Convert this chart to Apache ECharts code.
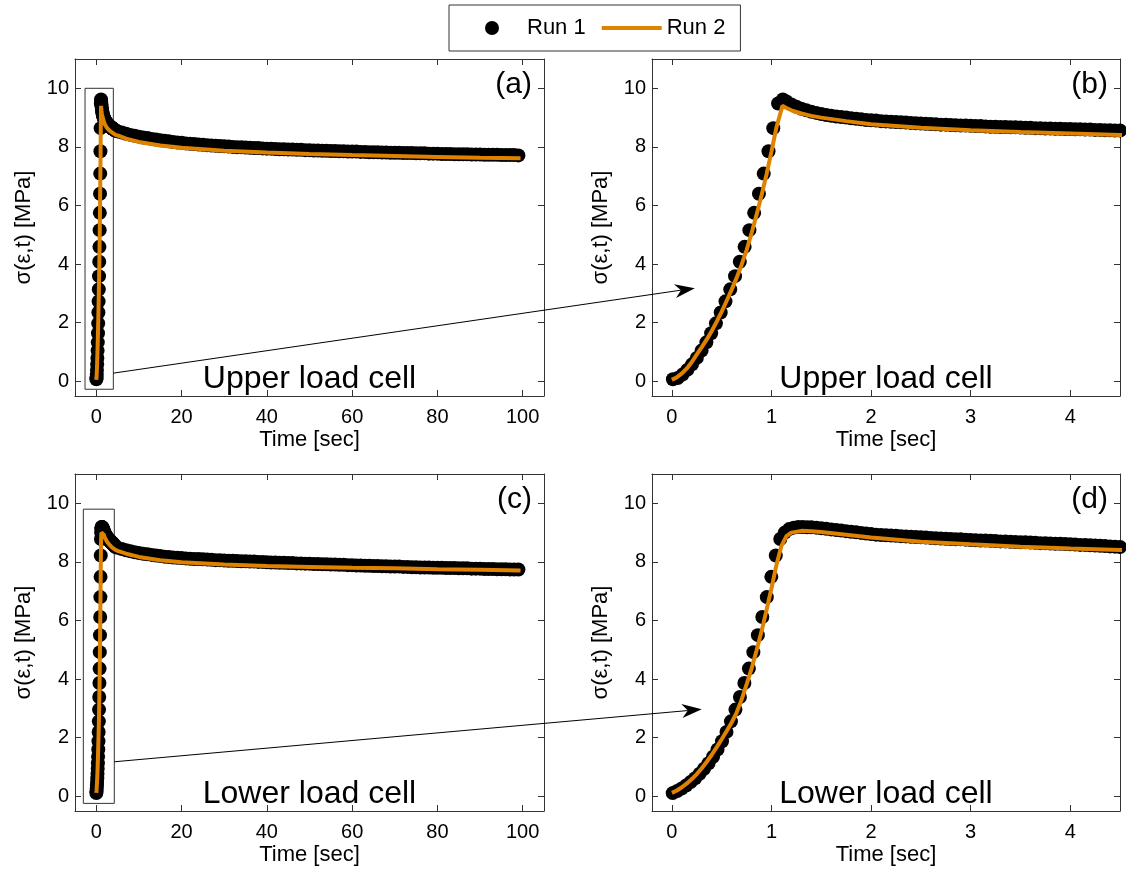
<!DOCTYPE html>
<html>
<head>
<meta charset="utf-8">
<title>Stress relaxation – upper and lower load cells</title>
<script src="https://cdn.jsdelivr.net/npm/echarts@6/dist/echarts.min.js"></script>
<style>
  html, body { margin: 0; padding: 0; background: #ffffff; }
  #chart { width: 1126px; height: 871px; }
</style>
</head>
<body>
<div id="chart"></div>
<script>
// ---------------------------------------------------------------------------
// Measured data: [time (s), stress (MPa)]
// ---------------------------------------------------------------------------

// Run 1, upper load cell: loading ramp
const upperRun1Rise = [
  [0.010, 0.07], [0.058, 0.11], [0.106, 0.23], [0.154, 0.39], [0.202, 0.58],
  [0.250, 0.80], [0.298, 1.05], [0.346, 1.33], [0.394, 1.64], [0.442, 1.98],
  [0.490, 2.35], [0.538, 2.73], [0.586, 3.14], [0.634, 3.59], [0.682, 4.08],
  [0.730, 4.59], [0.778, 5.16], [0.826, 5.75], [0.874, 6.40], [0.922, 7.09],
  [0.970, 7.85], [1.018, 8.64], [1.066, 9.48], [1.114, 9.62]
];
// Run 1, upper load cell: early relaxation
const upperRun1Relax = [
  [1.15, 9.55], [1.20, 9.45], [1.25, 9.37], [1.30, 9.30], [1.35, 9.25], [1.40, 9.20],
  [1.45, 9.16], [1.50, 9.12], [1.55, 9.09], [1.60, 9.06], [1.65, 9.04], [1.70, 9.02],
  [1.75, 9.00], [1.80, 8.98], [1.85, 8.96], [1.90, 8.94], [1.95, 8.92], [2.00, 8.91],
  [2.05, 8.90], [2.10, 8.88], [2.15, 8.87], [2.20, 8.86], [2.25, 8.85], [2.30, 8.84],
  [2.35, 8.83], [2.40, 8.82], [2.45, 8.81], [2.50, 8.80], [2.55, 8.79], [2.60, 8.78],
  [2.65, 8.77], [2.70, 8.76], [2.75, 8.76], [2.80, 8.75], [2.85, 8.74], [2.90, 8.73],
  [2.95, 8.73], [3.00, 8.72], [3.05, 8.71], [3.10, 8.71], [3.15, 8.70], [3.20, 8.69],
  [3.25, 8.69], [3.30, 8.68], [3.35, 8.68], [3.40, 8.67], [3.45, 8.67], [3.50, 8.66],
  [3.55, 8.65], [3.60, 8.65], [3.65, 8.64], [3.70, 8.64], [3.75, 8.63], [3.80, 8.63],
  [3.85, 8.62], [3.90, 8.62], [3.95, 8.61], [4.00, 8.61], [4.05, 8.60], [4.10, 8.60],
  [4.15, 8.59], [4.20, 8.59], [4.25, 8.58], [4.30, 8.58], [4.35, 8.57], [4.40, 8.57],
  [4.45, 8.56], [4.50, 8.56]
];
// Run 1, upper load cell: long-term relaxation
const upperRun1Tail = [
  [5, 8.53], [6, 8.49], [7, 8.45], [8, 8.41], [9, 8.38], [10, 8.35], [11, 8.32], [12, 8.30],
  [13, 8.27], [14, 8.25], [15, 8.23], [16, 8.21], [17, 8.19], [18, 8.17], [19, 8.15], [20, 8.14],
  [21, 8.12], [22, 8.11], [23, 8.10], [24, 8.08], [25, 8.07], [26, 8.06], [27, 8.05], [28, 8.04],
  [29, 8.03], [30, 8.02], [31, 8.01], [32, 8.00], [33, 7.99], [34, 7.99], [35, 7.98], [36, 7.97],
  [37, 7.96], [38, 7.96], [39, 7.95], [40, 7.94], [41, 7.94], [42, 7.93], [43, 7.92], [44, 7.92],
  [45, 7.91], [46, 7.91], [47, 7.90], [48, 7.90], [49, 7.89], [50, 7.89], [51, 7.88], [52, 7.88],
  [53, 7.87], [54, 7.87], [55, 7.86], [56, 7.86], [57, 7.85], [58, 7.85], [59, 7.84], [60, 7.84],
  [61, 7.84], [62, 7.83], [63, 7.83], [64, 7.82], [65, 7.82], [66, 7.82], [67, 7.81], [68, 7.81],
  [69, 7.80], [70, 7.80], [71, 7.80], [72, 7.79], [73, 7.79], [74, 7.79], [75, 7.78], [76, 7.78],
  [77, 7.78], [78, 7.77], [79, 7.77], [80, 7.77], [81, 7.76], [82, 7.76], [83, 7.76], [84, 7.75],
  [85, 7.75], [86, 7.75], [87, 7.75], [88, 7.74], [89, 7.74], [90, 7.74], [91, 7.73], [92, 7.73],
  [93, 7.73], [94, 7.73], [95, 7.72], [96, 7.72], [97, 7.72], [98, 7.72], [99, 7.71]
];
// Run 2, upper load cell
const upperRun2 = [
  [0.00, 0.05], [0.05, 0.14], [0.10, 0.27], [0.15, 0.44], [0.20, 0.66], [0.25, 0.92],
  [0.30, 1.17], [0.35, 1.43], [0.40, 1.72], [0.45, 2.04], [0.50, 2.38], [0.55, 2.75],
  [0.60, 3.13], [0.65, 3.53], [0.70, 3.98], [0.75, 4.48], [0.80, 5.06], [0.85, 5.68],
  [0.90, 6.35], [0.95, 7.06], [1.00, 7.85], [1.05, 8.67], [1.11, 9.40], [1.15, 9.33],
  [1.20, 9.25], [1.30, 9.14], [1.40, 9.06], [1.50, 9.00], [1.75, 8.88], [2.00, 8.77],
  [2.50, 8.65], [3.00, 8.57], [3.50, 8.51], [4.00, 8.46], [4.50, 8.41], [5, 8.39],
  [7, 8.28], [10, 8.17], [15, 8.05], [20, 7.97], [30, 7.87], [40, 7.81], [50, 7.76],
  [60, 7.72], [70, 7.69], [80, 7.66], [90, 7.63], [99.5, 7.61]
];

// Run 1, lower load cell: loading ramp
const lowerRun1Rise = [
  [0.008, 0.11], [0.053, 0.18], [0.098, 0.27], [0.143, 0.37], [0.188, 0.49], [0.233, 0.62],
  [0.278, 0.77], [0.323, 0.94], [0.368, 1.13], [0.413, 1.35], [0.458, 1.60], [0.503, 1.88],
  [0.548, 2.20], [0.593, 2.56], [0.638, 2.96], [0.683, 3.39], [0.728, 3.87], [0.773, 4.36],
  [0.818, 4.92], [0.863, 5.50], [0.908, 6.12], [0.953, 6.80], [0.998, 7.49], [1.043, 8.22],
  [1.088, 8.78], [1.133, 9.00], [1.178, 9.12], [1.223, 9.17], [1.268, 9.19], [1.313, 9.19],
  [1.358, 9.18]
];
// Run 1, lower load cell: early relaxation
const lowerRun1Relax = [
  [1.40, 9.18], [1.45, 9.17], [1.50, 9.15], [1.55, 9.13], [1.60, 9.11], [1.65, 9.09],
  [1.70, 9.07], [1.75, 9.05], [1.80, 9.03], [1.85, 9.01], [1.90, 8.99], [1.95, 8.97],
  [2.00, 8.95], [2.05, 8.93], [2.10, 8.92], [2.15, 8.91], [2.20, 8.90], [2.25, 8.89],
  [2.30, 8.88], [2.35, 8.87], [2.40, 8.86], [2.45, 8.85], [2.50, 8.84], [2.55, 8.83],
  [2.60, 8.82], [2.65, 8.81], [2.70, 8.80], [2.75, 8.79], [2.80, 8.78], [2.85, 8.77],
  [2.90, 8.77], [2.95, 8.76], [3.00, 8.75], [3.05, 8.74], [3.10, 8.73], [3.15, 8.73],
  [3.20, 8.72], [3.25, 8.71], [3.30, 8.70], [3.35, 8.70], [3.40, 8.69], [3.45, 8.68],
  [3.50, 8.67], [3.55, 8.67], [3.60, 8.66], [3.65, 8.65], [3.70, 8.64], [3.75, 8.64],
  [3.80, 8.63], [3.85, 8.62], [3.90, 8.62], [3.95, 8.61], [4.00, 8.60], [4.05, 8.59],
  [4.10, 8.58], [4.15, 8.58], [4.20, 8.57], [4.25, 8.56], [4.30, 8.55], [4.35, 8.54],
  [4.40, 8.53], [4.45, 8.52], [4.50, 8.51]
];
// Run 1, lower load cell: long-term relaxation
const lowerRun1Tail = [
  [5, 8.48], [6, 8.44], [7, 8.40], [8, 8.36], [9, 8.33], [10, 8.30], [11, 8.28], [12, 8.26],
  [13, 8.24], [14, 8.22], [15, 8.20], [16, 8.18], [17, 8.17], [18, 8.15], [19, 8.14], [20, 8.13],
  [21, 8.12], [22, 8.11], [23, 8.10], [24, 8.10], [25, 8.09], [26, 8.08], [27, 8.07], [28, 8.06],
  [29, 8.06], [30, 8.05], [31, 8.04], [32, 8.04], [33, 8.03], [34, 8.02], [35, 8.02], [36, 8.01],
  [37, 8.01], [38, 8.00], [39, 8.00], [40, 7.99], [41, 7.98], [42, 7.98], [43, 7.97], [44, 7.97],
  [45, 7.96], [46, 7.96], [47, 7.95], [48, 7.95], [49, 7.94], [50, 7.94], [51, 7.93], [52, 7.93],
  [53, 7.92], [54, 7.92], [55, 7.91], [56, 7.91], [57, 7.90], [58, 7.90], [59, 7.89], [60, 7.89],
  [61, 7.88], [62, 7.88], [63, 7.87], [64, 7.87], [65, 7.86], [66, 7.86], [67, 7.85], [68, 7.85],
  [69, 7.84], [70, 7.84], [71, 7.84], [72, 7.83], [73, 7.83], [74, 7.82], [75, 7.82], [76, 7.81],
  [77, 7.81], [78, 7.81], [79, 7.80], [80, 7.80], [81, 7.80], [82, 7.79], [83, 7.79], [84, 7.79],
  [85, 7.78], [86, 7.78], [87, 7.78], [88, 7.77], [89, 7.77], [90, 7.77], [91, 7.76], [92, 7.76],
  [93, 7.76], [94, 7.75], [95, 7.75], [96, 7.75], [97, 7.74], [98, 7.74], [99, 7.74]
];
// Run 2, lower load cell
const lowerRun2 = [
  [0.00, 0.12], [0.05, 0.20], [0.10, 0.31], [0.15, 0.44], [0.20, 0.59], [0.25, 0.76],
  [0.30, 0.96], [0.35, 1.18], [0.40, 1.42], [0.45, 1.68], [0.50, 1.95], [0.55, 2.23],
  [0.60, 2.52], [0.65, 2.86], [0.70, 3.30], [0.75, 3.82], [0.80, 4.36], [0.85, 4.98],
  [0.90, 5.63], [0.95, 6.35], [1.00, 7.10], [1.05, 7.90], [1.10, 8.55], [1.15, 8.88],
  [1.20, 9.00], [1.30, 9.06], [1.40, 9.05], [1.50, 9.02], [1.75, 8.93], [2.00, 8.83],
  [2.50, 8.69], [3.00, 8.60], [3.50, 8.52], [4.00, 8.46], [4.50, 8.41], [5, 8.38],
  [7, 8.28], [10, 8.17], [15, 8.06], [20, 7.99], [30, 7.91], [40, 7.86], [50, 7.83],
  [60, 7.80], [70, 7.78], [80, 7.75], [90, 7.73], [99.5, 7.71]
];

// Tick positions
const fullTimeTicks = [0, 20, 40, 60, 80, 100];
const zoomTimeTicks = [0, 1, 2, 3, 4];
const stressTicks = [0, 2, 4, 6, 8, 10];

// Zoom-window rectangles in the full-time panels: [[t0, s0], [t1, s1]]
const upperZoomBox = [[-2.65, -0.27], [3.99, 10.0]];
const lowerZoomBox = [[-3.05, -0.24], [4.22, 9.80]];

// Callout arrows: start in the full-time panel, tip in the zoomed panel
const upperArrow = { from: [3.99, 0.28], to: [0.23, 3.18] };
const lowerArrow = { from: [4.22, 1.18], to: [0.30, 2.97] };

// Text
const legendNames = ['Run 1', 'Run 2'];
const panelTags = ['(a)', '(b)', '(c)', '(d)'];
const cellNames = ['Upper load cell', 'Upper load cell', 'Lower load cell', 'Lower load cell'];
const xTitle = 'Time [sec]';
const yTitle = 'σ(ε,t) [MPa]';

// ---------------------------------------------------------------------------
// Styling / layout
// ---------------------------------------------------------------------------
const FONT = "'Liberation Sans', Arial, Helvetica, sans-serif";
const INK = '#000000';
const FRAME = '#333333';
const ORANGE = '#DF8200';

const upperRun1 = upperRun1Rise.concat(upperRun1Relax, upperRun1Tail);
const lowerRun1 = lowerRun1Rise.concat(lowerRun1Relax, lowerRun1Tail);

const panels = [
  { grid: { left: 75,  top: 59,  width: 469, height: 337 }, xMin: -5,   xMax: 105, xTicks: fullTimeTicks, run1: upperRun1, run2: upperRun2, box: upperZoomBox },
  { grid: { left: 652, top: 59,  width: 468, height: 337 }, xMin: -0.2, xMax: 4.5, xTicks: zoomTimeTicks, run1: upperRun1, run2: upperRun2 },
  { grid: { left: 75,  top: 474, width: 469, height: 337 }, xMin: -5,   xMax: 105, xTicks: fullTimeTicks, run1: lowerRun1, run2: lowerRun2, box: lowerZoomBox },
  { grid: { left: 652, top: 474, width: 468, height: 337 }, xMin: -0.2, xMax: 4.5, xTicks: zoomTimeTicks, run1: lowerRun1, run2: lowerRun2 }
];
const Y_MIN = -0.5, Y_MAX = 11;

const frameLine = { show: true, onZero: false, lineStyle: { color: FRAME, width: 1 } };
const tickStyle = (vals) => ({ show: true, inside: true, length: 6, customValues: vals, lineStyle: { color: FRAME, width: 1 } });

const xAxes = [], yAxes = [], series = [];
panels.forEach((p, i) => {
  xAxes.push({
    gridIndex: i, type: 'value', position: 'bottom', min: p.xMin, max: p.xMax,
    axisLine: frameLine, axisTick: tickStyle(p.xTicks),
    axisLabel: { customValues: p.xTicks, margin: 11, fontSize: 20, color: INK, fontFamily: FONT },
    splitLine: { show: false },
    name: xTitle, nameLocation: 'middle', nameGap: 33,
    nameTextStyle: { fontSize: 22, color: INK, fontFamily: FONT }
  });
  xAxes.push({
    gridIndex: i, type: 'value', position: 'top', min: p.xMin, max: p.xMax,
    axisLine: frameLine, axisTick: tickStyle(p.xTicks),
    axisLabel: { show: false }, splitLine: { show: false }
  });
  yAxes.push({
    gridIndex: i, type: 'value', position: 'left', min: Y_MIN, max: Y_MAX,
    axisLine: frameLine, axisTick: tickStyle(stressTicks),
    axisLabel: { customValues: stressTicks, margin: 6, fontSize: 20, color: INK, fontFamily: FONT },
    splitLine: { show: false },
    name: yTitle, nameLocation: 'middle', nameGap: 40, nameRotate: 90,
    nameTextStyle: { fontSize: 22, color: INK, fontFamily: FONT }
  });
  yAxes.push({
    gridIndex: i, type: 'value', position: 'right', min: Y_MIN, max: Y_MAX,
    axisLine: frameLine, axisTick: tickStyle(stressTicks),
    axisLabel: { show: false }, splitLine: { show: false }
  });

  const dots = {
    type: 'scatter', name: legendNames[0], xAxisIndex: 2 * i, yAxisIndex: 2 * i,
    data: p.run1, symbol: 'circle', symbolSize: 14,
    itemStyle: { color: INK, opacity: 1 }, silent: true, clip: true, z: 2,
    emphasis: { disabled: true }
  };
  if (p.box) {
    dots.markArea = {
      silent: true,
      itemStyle: { color: 'rgba(0,0,0,0)', borderColor: FRAME, borderWidth: 1 },
      label: { show: false },
      data: [[{ coord: p.box[0] }, { coord: p.box[1] }]]
    };
  }
  series.push(dots);
  series.push({
    type: 'line', name: legendNames[1], xAxisIndex: 2 * i, yAxisIndex: 2 * i,
    data: p.run2, showSymbol: false, symbol: 'none', smooth: false,
    lineStyle: { color: ORANGE, width: 4 }, itemStyle: { color: ORANGE },
    silent: true, clip: true, z: 3, emphasis: { disabled: true }
  });
});

const chart = echarts.init(document.getElementById('chart'), null, { renderer: 'canvas' });
chart.setOption({
  animation: false,
  backgroundColor: '#ffffff',
  textStyle: { fontFamily: FONT },
  legend: {
    left: 449, top: 5, orient: 'horizontal',
    itemWidth: 60, itemHeight: 14, itemGap: 16,
    padding: [12, 15, 12, 36],
    borderColor: FRAME, borderWidth: 1,
    selectedMode: false,
    textStyle: { fontSize: 22, color: INK, fontFamily: FONT },
    data: [
      { name: legendNames[0], icon: 'circle', itemStyle: { color: INK, opacity: 1 } },
      { name: legendNames[1], icon: 'path://M0,0L60,0L60,4L0,4Z' }
    ]
  },
  grid: panels.map(p => p.grid),
  xAxis: xAxes,
  yAxis: yAxes,
  series: series
});

// ---------------------------------------------------------------------------
// Annotations: panel tags, load-cell captions and callout arrows
// ---------------------------------------------------------------------------
const toPx = (panelIdx, pt) => chart.convertToPixel({ xAxisIndex: 2 * panelIdx, yAxisIndex: 2 * panelIdx }, pt);

function arrowGraphics(p0, p1) {
  const dx = p1[0] - p0[0], dy = p1[1] - p0[1];
  const len = Math.hypot(dx, dy);
  const ux = dx / len, uy = dy / len, nx = -uy, ny = ux;
  const headLen = 20, headHalf = 7, notch = 14;
  const back = [p1[0] - headLen * ux, p1[1] - headLen * uy];
  const mid = [p1[0] - notch * ux, p1[1] - notch * uy];
  return [
    { type: 'line', silent: true, z: 10,
      shape: { x1: p0[0], y1: p0[1], x2: mid[0], y2: mid[1] },
      style: { stroke: INK, lineWidth: 1 } },
    { type: 'polygon', silent: true, z: 10,
      shape: { points: [
        p1,
        [back[0] + headHalf * nx, back[1] + headHalf * ny],
        mid,
        [back[0] - headHalf * nx, back[1] - headHalf * ny]
      ] },
      style: { fill: INK } }
  ];
}

const graphics = [];
panels.forEach((p, i) => {
  const g = p.grid;
  graphics.push({
    type: 'text', silent: true, z: 10,
    x: g.left + g.width - 12, y: g.top + 26,
    style: { text: panelTags[i], fill: INK, font: '30px ' + FONT, align: 'right', verticalAlign: 'middle' }
  });
  graphics.push({
    type: 'text', silent: true, z: 10,
    x: g.left + g.width / 2, y: g.top + g.height - 17,
    style: { text: cellNames[i], fill: INK, font: '32px ' + FONT, align: 'center', verticalAlign: 'middle' }
  });
});
graphics.push(...arrowGraphics(toPx(0, upperArrow.from), toPx(1, upperArrow.to)));
graphics.push(...arrowGraphics(toPx(2, lowerArrow.from), toPx(3, lowerArrow.to)));

chart.setOption({ graphic: graphics });
</script>
</body>
</html>
